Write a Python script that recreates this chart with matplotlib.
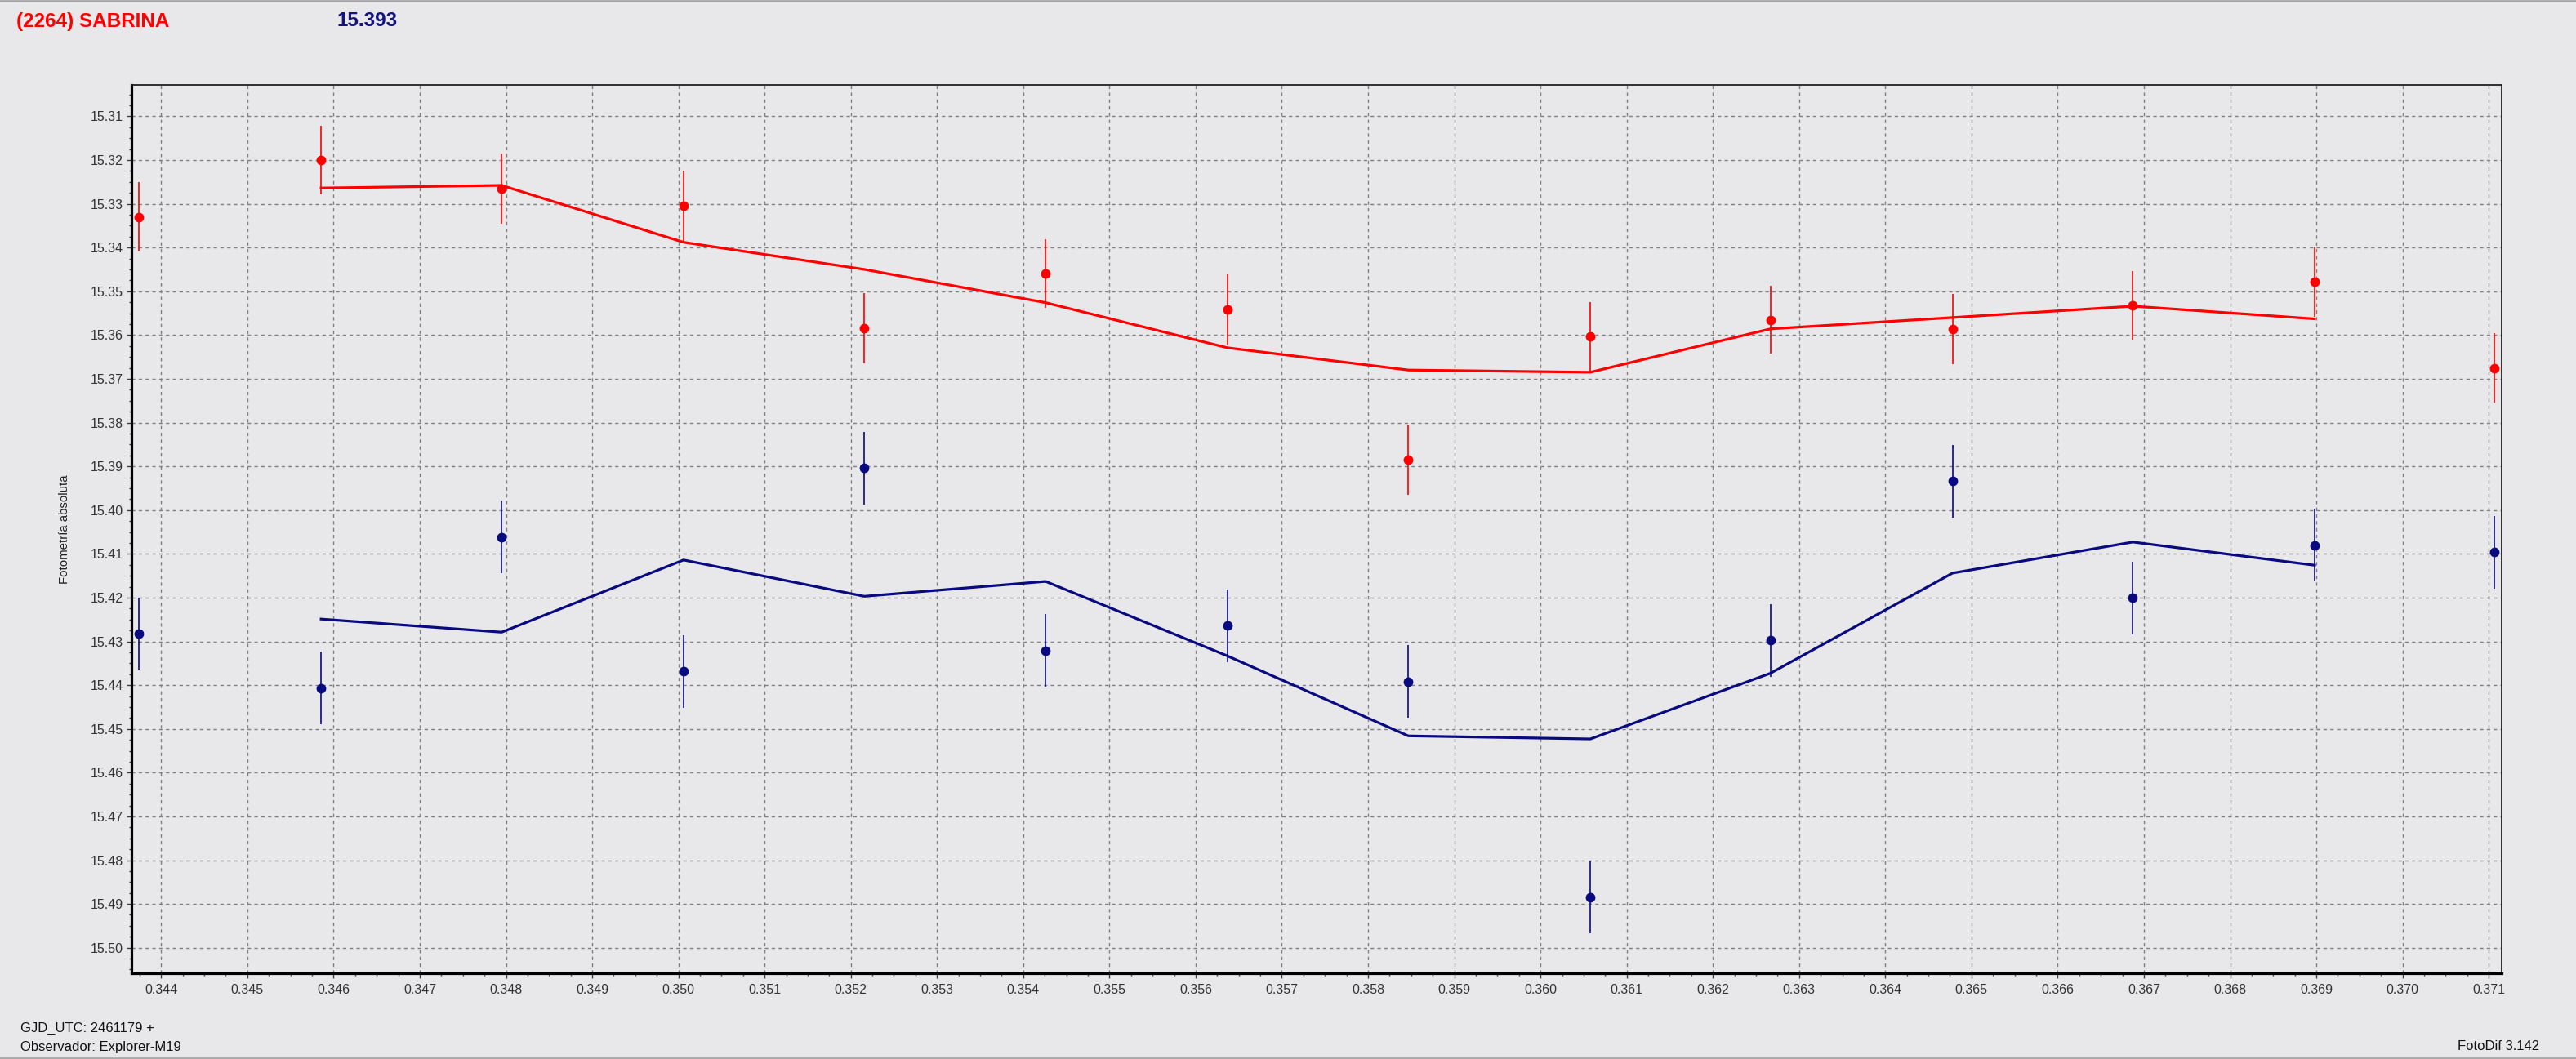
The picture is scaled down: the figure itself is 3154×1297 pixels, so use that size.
import matplotlib
matplotlib.use("Agg")
import matplotlib.pyplot as plt
from matplotlib.lines import Line2D
from matplotlib.ticker import MultipleLocator, FormatStrFormatter

# ---- data ----
time_frac = [0.343741, 0.345855, 0.347950, 0.350060, 0.352156, 0.354260, 0.356366,
             0.358467, 0.360578, 0.362666, 0.364780, 0.366871, 0.368980, 0.371066]

red_mag = [15.3330, 15.3200, 15.3265, 15.3305, 15.3585, 15.3459, 15.3541,
           15.3885, 15.3604, 15.3565, 15.3586, 15.3532, 15.3479, 15.3675]
red_err = [0.0080, 0.0078, 0.0080, 0.0080, 0.0080, 0.0078, 0.0080,
           0.0080, 0.0080, 0.0078, 0.0080, 0.0079, 0.0080, 0.0080]

blue_mag = [15.4283, 15.4407, 15.4062, 15.4369, 15.3904, 15.4321, 15.4264,
            15.4392, 15.4884, 15.4298, 15.3934, 15.4201, 15.4080, 15.4096]
blue_err = [0.0083] * 14

# smoothed curves (drawn from point 2 to point 13)
red_line = [15.3264, 15.3258, 15.3388, 15.3450, 15.3526, 15.3629, 15.3680,
            15.3685, 15.3586, 15.3560, 15.3534, 15.3563]
blue_line = [15.4249, 15.4279, 15.4114, 15.4197, 15.4163, 15.4333, 15.4516,
             15.4523, 15.4373, 15.4144, 15.4073, 15.4126]

title_left = "(2264) SABRINA"
title_mid = "15.393"
y_label = "Fotometría absoluta"
foot1 = "GJD_UTC: 2461179 +"
foot2 = "Observador: Explorer-M19"
foot3 = "FotoDif 3.142"

RED = "#FF0000"
NAVY = "#0A0A80"
BG = "#E8E8EA"

W, H = 3154, 1297
fig = plt.figure(figsize=(W / 100, H / 100), dpi=100, facecolor=BG)
plt.rcParams['font.family'] = ['Liberation Sans', 'DejaVu Sans']

ax = fig.add_axes([161 / W, 1 - 1192 / H, (3063 - 161) / W, (1192 - 104) / H])
ax.set_facecolor(BG)

ax.set_xlim(0.343656, 0.37115)
ax.set_ylim(15.50584, 15.30285)

ax.xaxis.set_major_locator(MultipleLocator(0.001))
ax.xaxis.set_minor_locator(MultipleLocator(0.00025))
ax.yaxis.set_major_locator(MultipleLocator(0.01))
ax.yaxis.set_minor_locator(MultipleLocator(0.0025))
ax.xaxis.set_major_formatter(FormatStrFormatter("%.3f"))
ax.yaxis.set_major_formatter(FormatStrFormatter("%.2f"))

ax.grid(True, which="major", color="#7F7F7F", linestyle=(0, (3, 3)), linewidth=1.0, zorder=0)
ax.set_axisbelow(True)

for side in ["left", "bottom"]:
    ax.spines[side].set_linewidth(2.3)
    ax.spines[side].set_color("black")
for side in ["top", "right"]:
    ax.spines[side].set_linewidth(1.3)
    ax.spines[side].set_color("#202020")

ax.tick_params(axis="both", which="major", direction="out", length=4.5, width=1.0,
               color="#404040", labelsize=11.5, labelcolor="#333333")
ax.tick_params(axis="x", which="major", pad=5)
ax.tick_params(axis="y", which="major", pad=3)
ax.tick_params(axis="both", which="minor", direction="out", length=2.5, width=1.0, color="#404040")

# data
ax.errorbar(time_frac, red_mag, yerr=red_err, fmt="o", color=RED, ms=7.5,
            elinewidth=1.2, capsize=0, zorder=3)
ax.errorbar(time_frac, blue_mag, yerr=blue_err, fmt="o", color=NAVY, ms=7.5,
            elinewidth=1.2, capsize=0, zorder=3)
ax.plot(time_frac[1:-1], red_line, color=RED, linewidth=2.3, zorder=4)
ax.plot(time_frac[1:-1], blue_line, color=NAVY, linewidth=2.3, zorder=4)

ax.set_ylabel(y_label, fontsize=10.8, color="#222222")
ax.yaxis.set_label_coords(-(161 - 86) / (3063 - 161), 0.5)

# header and footer texts
fig.text(20 / W, 1 - 26 / H, title_left, color=RED, fontsize=17.5, fontweight="bold",
         va="center", ha="left")
fig.text(412 / W, 1 - 26 / H, title_mid, color="#141480", fontsize=17.5, fontweight="bold",
         va="center", ha="left")
fig.text(25 / W, 1 - 1259 / H, foot1, color="#111111", fontsize=12, va="center", ha="left")
fig.text(25 / W, 1 - 1282 / H, foot2, color="#111111", fontsize=12, va="center", ha="left")
fig.text(3109 / W, 1 - 1282 / H, foot3, color="#111111", fontsize=12, va="center", ha="right")

# window border lines
fig.add_artist(Line2D([0, 1], [1 - 1 / H, 1 - 1 / H], color="#A8A8A8", linewidth=2,
                      transform=fig.transFigure))
fig.add_artist(Line2D([0, 1], [1 / H, 1 / H], color="#A8A8A8", linewidth=2,
                      transform=fig.transFigure))

fig.savefig("out.png", dpi=100, facecolor=BG)
